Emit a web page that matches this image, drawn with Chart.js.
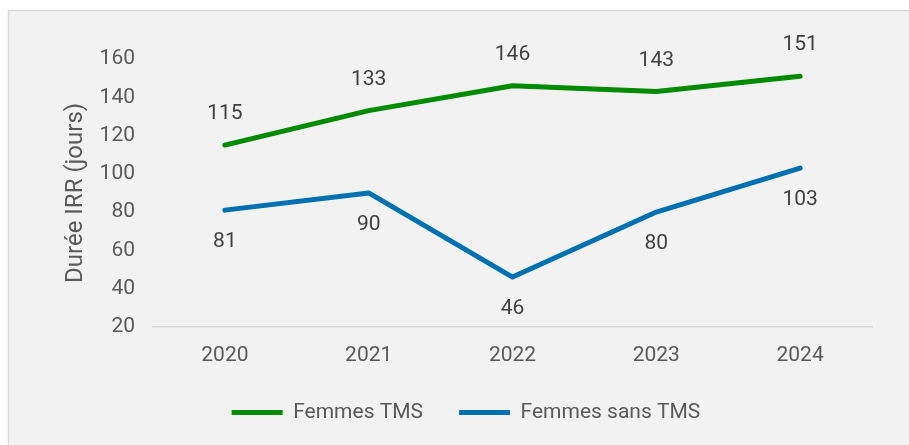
<!DOCTYPE html>
<html>
<head>
<meta charset="utf-8">
<script src="https://cdn.jsdelivr.net/npm/chart.js@4.4.1/dist/chart.umd.min.js"></script>
<style>
  html, body { margin: 0; padding: 0; background: #ffffff; }
  #wrap { width: 909px; height: 445px; }
</style>
</head>
<body>
<div id="wrap"><canvas id="chart" width="909" height="445"></canvas></div>
<script>
// Données du graphique
const years = ['2020', '2021', '2022', '2023', '2024'];
const femmesTMS = [115, 133, 146, 143, 151];
const femmesSansTMS = [81, 90, 46, 80, 103];
const yTicks = [20, 40, 60, 80, 100, 120, 140, 160];

const textColor = '#595959';
const fontFamily = 'Roboto, "Liberation Sans", sans-serif';

// Fond gris avec bordure
const backgroundPlugin = {
    id: 'panelBackground',
    beforeDraw(chart) {
        const ctx = chart.ctx;
        ctx.save();
        ctx.fillStyle = '#ffffff';
        ctx.fillRect(0, 0, chart.width, chart.height);
        ctx.fillStyle = '#f2f2f2';
        ctx.fillRect(8, 10, chart.width - 8, chart.height - 10);
        ctx.strokeStyle = '#d9d9d9';
        ctx.lineWidth = 1.5;
        ctx.strokeRect(8.5, 10.5, chart.width, chart.height);
        ctx.restore();
    }
};

// Étiquettes de valeurs : au-dessus pour la série 0, en dessous pour la série 1
const valueLabelsPlugin = {
    id: 'valueLabels',
    afterDatasetsDraw(chart) {
        const ctx = chart.ctx;
        ctx.save();
        ctx.font = '21px ' + fontFamily;
        ctx.fillStyle = '#404040';
        ctx.textAlign = 'center';
        ctx.textBaseline = 'middle';
        chart.data.datasets.forEach((ds, i) => {
            const meta = chart.getDatasetMeta(i);
            meta.data.forEach((pt, j) => {
                const dy = i === 0 ? -31 : 32;
                ctx.fillText(String(ds.data[j]), pt.x, pt.y + dy);
            });
        });
        ctx.restore();
    }
};

new Chart(document.getElementById('chart'), {
    type: 'line',
    data: {
        labels: years,
        datasets: [
            {
                label: 'Femmes TMS',
                data: femmesTMS,
                borderColor: '#008a00',
                backgroundColor: '#008a00',
                borderWidth: 5,
                borderCapStyle: 'round',
                borderJoinStyle: 'round',
                pointRadius: 0,
                tension: 0
            },
            {
                label: 'Femmes sans TMS',
                data: femmesSansTMS,
                borderColor: '#0070b0',
                backgroundColor: '#0070b0',
                borderWidth: 5,
                borderCapStyle: 'round',
                borderJoinStyle: 'round',
                pointRadius: 0,
                tension: 0
            }
        ]
    },
    options: {
        responsive: false,
        animation: false,
        clip: false,
        layout: { padding: { left: 60, right: 37, top: 59, bottom: 12 } },
        scales: {
            x: {
                offset: true,
                afterFit(scale) {
                    scale.height = scale.height - 18;
                },
                grid: { display: false, drawTicks: false },
                border: { display: true, color: '#d9d9d9', width: 1.5 },
                ticks: { color: textColor, font: { family: fontFamily, size: 21 }, padding: 16 }
            },
            y: {
                min: 20,
                max: 160,
                afterBuildTicks(scale) {
                    scale.ticks = yTicks.map(v => ({ value: v }));
                },
                afterFit(scale) {
                    scale.width = 93;
                },
                grid: { display: false, drawTicks: false },
                border: { display: false },
                ticks: { color: textColor, font: { family: fontFamily, size: 21 }, padding: 18 },
                title: {
                    display: true,
                    text: 'Durée IRR (jours)',
                    color: textColor,
                    font: { family: fontFamily, size: 24 },
                    padding: { top: 2, bottom: 0 }
                }
            }
        },
        plugins: {
            tooltip: { enabled: false },
            legend: {
                position: 'bottom',
                labels: {
                    usePointStyle: true,
                    pointStyle: 'line',
                    pointStyleWidth: 51,
                    color: textColor,
                    font: { family: fontFamily, size: 21 },
                    padding: 36
                }
            }
        }
    },
    plugins: [backgroundPlugin, valueLabelsPlugin]
});
</script>
</body>
</html>
